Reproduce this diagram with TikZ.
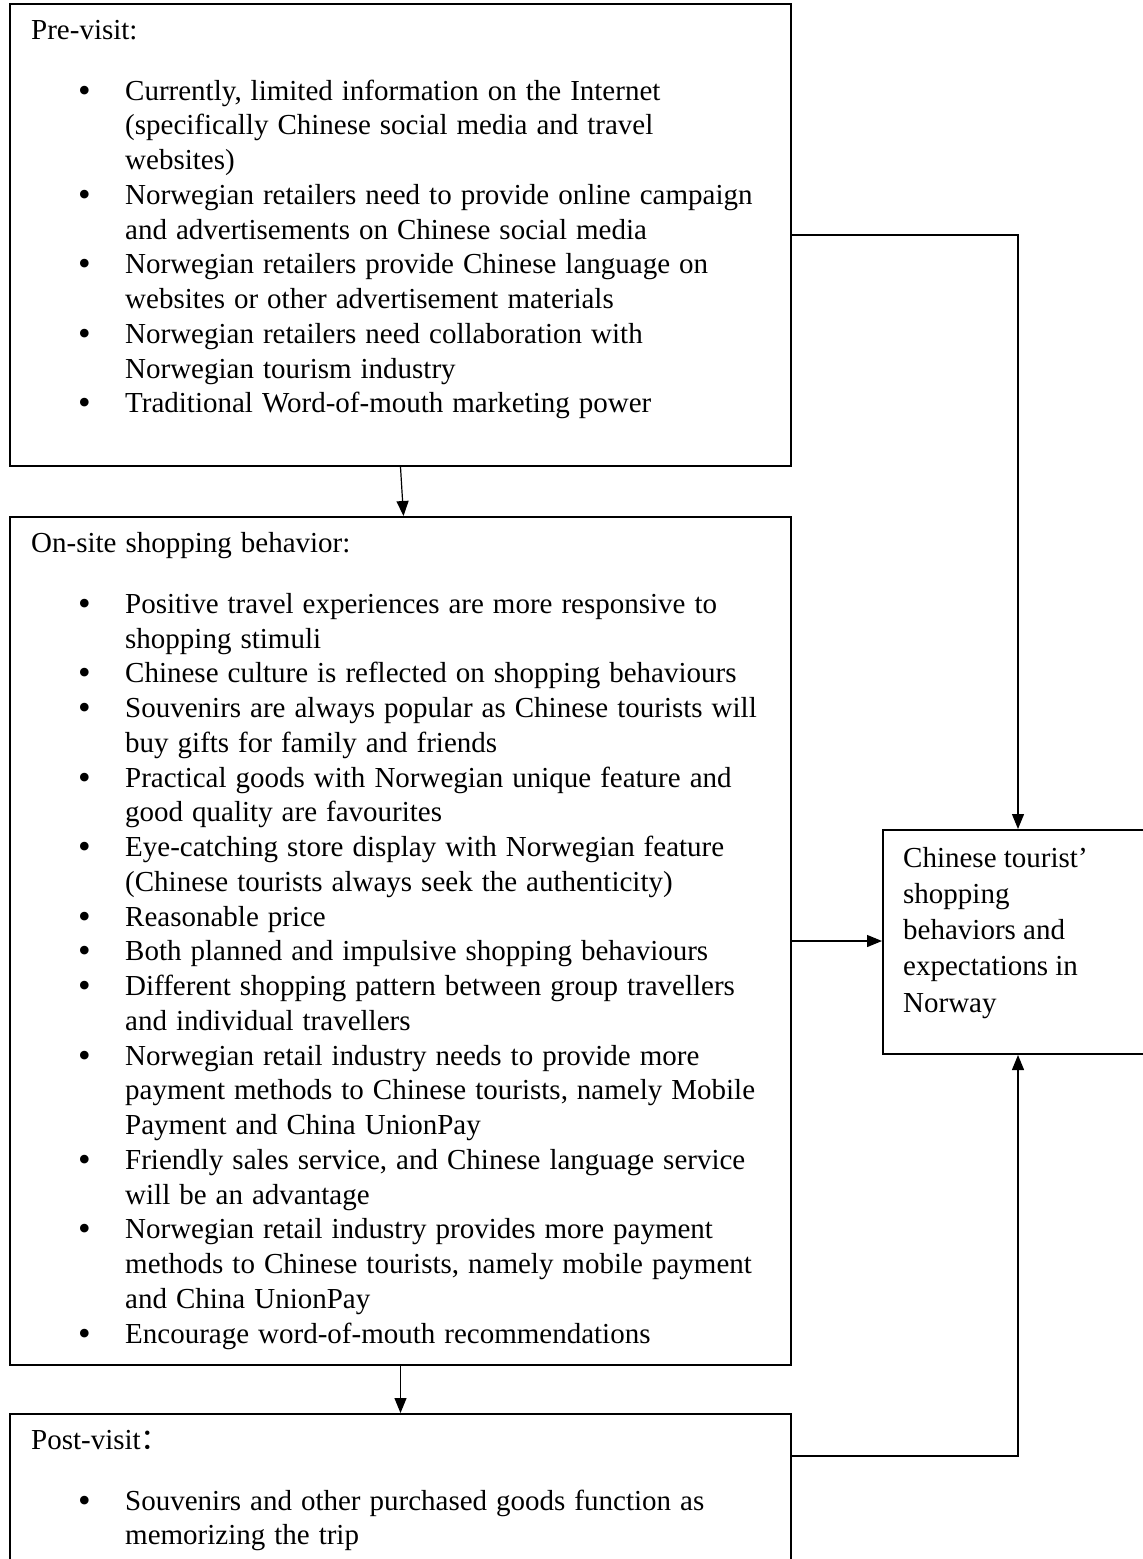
\documentclass[tikz,border=0pt]{standalone}
\usepackage{fontspec}
\setmainfont{Liberation Serif}
\newfontfamily\cjk{Noto Sans CJK SC}
\usetikzlibrary{arrows.meta}
\newcommand\bul{\makebox[94pt][l]{\hspace*{47pt}\raisebox{-2pt}{\fontsize{36pt}{36pt}\selectfont•}}}
\newcommand\cnt{\hspace*{94pt}}
\newcommand\boxfont{\fontsize{29pt}{34.75pt}\selectfont\spaceskip=9pt plus 2pt minus 1pt\relax}
\newcommand\goalfont{\fontsize{29pt}{36.3pt}\selectfont\relax}
\tikzset{
  box/.style={draw, line width=2pt, anchor=north west, inner sep=0pt},
  txt/.style={anchor=base west, inner sep=0pt, align=left, font=\boxfont},
  arr/.style={-{Triangle[length=15pt,width=12pt]}, line width=1.2pt}
}
\begin{document}
\begin{tikzpicture}[x=1pt,y=-1pt]
\clip (0,0) rectangle (1143,1559);
\fill[white] (0,0) rectangle (1143,1559);
% boxes
\node[box, minimum width=781pt, minimum height=462pt] (b1) at (9,3) {};
\node[box, minimum width=781pt, minimum height=848pt] (b2) at (9,516) {};
\node[box, minimum width=781pt, minimum height=300pt] (b3) at (9,1413) {};
\node[box, minimum width=270pt, minimum height=224pt] (r) at (882,829) {};
% texts (anchored at the baseline of their last line)
\node[txt] (t1) at (31,412.8) {Pre-visit:\\[26.25pt]
\bul Currently, limited information on the Internet\\
\cnt (specifically Chinese social media and travel\\
\cnt websites)\\
\bul Norwegian retailers need to provide online campaign\\
\cnt and advertisements on Chinese social media\\
\bul Norwegian retailers provide Chinese language on\\
\cnt websites or other advertisement materials\\
\bul Norwegian retailers need collaboration with\\
\cnt Norwegian tourism industry\\
\bul Traditional Word-of-mouth marketing power};
\node[txt] (t2) at (31,1343) {On-site shopping behavior:\\[26.25pt]
\bul Positive travel experiences are more responsive to\\
\cnt shopping stimuli\\
\bul Chinese culture is reflected on shopping behaviours\\
\bul Souvenirs are always popular as Chinese tourists will\\
\cnt buy gifts for family and friends\\
\bul Practical goods with Norwegian unique feature and\\
\cnt good quality are favourites\\
\bul Eye-catching store display with Norwegian feature\\
\cnt (Chinese tourists always seek the authenticity)\\
\bul Reasonable price\\
\bul Both planned and impulsive shopping behaviours\\
\bul Different shopping pattern between group travellers\\
\cnt and individual travellers\\
\bul Norwegian retail industry needs to provide more\\
\cnt payment methods to Chinese tourists, namely Mobile\\
\cnt Payment and China UnionPay\\
\bul Friendly sales service, and Chinese language service\\
\cnt will be an advantage\\
\bul Norwegian retail industry provides more payment\\
\cnt methods to Chinese tourists, namely mobile payment\\
\cnt and China UnionPay\\
\bul Encourage word-of-mouth recommendations};
\node[txt] (t3) at (31,1544.75) {Post-visit{\cjk ：}\\[26.25pt]
\bul Souvenirs and other purchased goods function as\\
\cnt memorizing the trip};
\node[txt, font=\goalfont] (t4) at (903,1012.2) {Chinese tourist’\\shopping\\behaviors and\\expectations in\\Norway};
% connectors
\coordinate (b3out) at ([yshift=-43pt]b3.north east);
\draw[arr] (b1.east) -| (r.north);
\draw[arr] (b2.east) -- (b2.east -| r.west);
\draw[arr] (b3out) -| (r.south);
\draw[arr] (b1.south) -- ([xshift=3pt]b2.north);
\draw[arr] (b2.south) -- (b3.north);
\end{tikzpicture}
\end{document}
